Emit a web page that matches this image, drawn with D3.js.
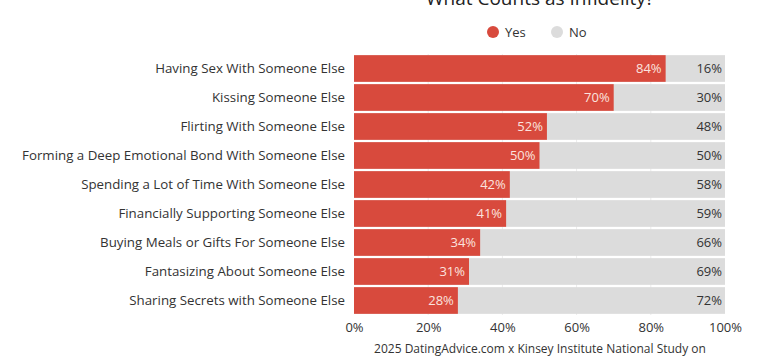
<!DOCTYPE html>
<html><head><meta charset="utf-8">
<script src="https://cdn.jsdelivr.net/npm/d3@7"></script>
<style>body{margin:0;background:#fff;}svg{display:block;font-family:"Open Sans",sans-serif;}</style>
</head><body>
<svg id="c" width="768" height="358"></svg>
<script>
const categories = ["Having Sex With Someone Else","Kissing Someone Else","Flirting With Someone Else","Forming a Deep Emotional Bond With Someone Else","Spending a Lot of Time With Someone Else","Financially Supporting Someone Else","Buying Meals or Gifts For Someone Else","Fantasizing About Someone Else","Sharing Secrets with Someone Else"];
const yesValues = [84,70,52,50,42,41,34,31,28];
const noValues = [16,30,48,50,58,59,66,69,72];
const tickValues = [0,20,40,60,80,100];
const seriesNames = ["Yes","No"];
const title = "What Counts as Infidelity?";
const source = "2025 DatingAdvice.com x Kinsey Institute National Study on";

const RED = "#d84a3d", GREY = "#dcdcdc";
const svg = d3.select("#c");
const x = d3.scaleLinear().domain([0,100]).range([354,725]);
const y = d3.scaleBand().domain(categories).range([54,315]).paddingInner(0.08).paddingOuter(0.04);

// gridlines
svg.append("g").selectAll("line").data(tickValues.slice(1,-1)).join("line")
  .attr("x1",d=>x(d)).attr("x2",d=>x(d)).attr("y1",y.range()[0]).attr("y2",y.range()[1])
  .attr("stroke","#ececec").attr("stroke-width",1);

const rows = svg.append("g").selectAll("g").data(categories).join("g");
rows.append("rect").attr("x",x(0)).attr("y",d=>y(d)).attr("height",y.bandwidth())
  .attr("width",(d,i)=>x(yesValues[i]+noValues[i])-x(0)).attr("fill",GREY);
rows.append("rect").attr("x",x(0)).attr("y",d=>y(d)).attr("height",y.bandwidth())
  .attr("width",(d,i)=>x(yesValues[i])-x(0)).attr("fill",RED);
rows.append("text").attr("x",(d,i)=>x(yesValues[i])-4).attr("y",d=>y(d)+y.bandwidth()/2)
  .attr("dy","0.35em").attr("text-anchor","end").attr("font-size",13).attr("fill","#fbe3df")
  .text((d,i)=>yesValues[i]+"%");
rows.append("text").attr("x",(d,i)=>x(yesValues[i]+noValues[i])-3).attr("y",d=>y(d)+y.bandwidth()/2)
  .attr("dy","0.35em").attr("text-anchor","end").attr("font-size",13).attr("fill","#333")
  .text((d,i)=>noValues[i]+"%");
rows.append("text").attr("x",345).attr("y",d=>y(d)+y.bandwidth()/2)
  .attr("dy","0.35em").attr("text-anchor","end").attr("font-size",13.3).attr("fill","#333")
  .text(d=>d);

// x axis
const ax = svg.append("g").attr("transform",`translate(0,${y.range()[1]})`)
  .call(d3.axisBottom(x).tickValues(tickValues).tickFormat(d=>d+"%").tickSize(0).tickPadding(8));
ax.select(".domain").remove();
ax.selectAll("text").attr("font-size",13).attr("fill","#333").attr("font-family","Open Sans, sans-serif");

// title
svg.append("text").attr("x",540).attr("y",5).attr("text-anchor","middle").attr("font-size",19)
  .attr("fill","#222").text(title);

// legend
const leg = svg.append("g").selectAll("g").data(seriesNames).join("g")
  .attr("transform",(d,i)=>`translate(${i?557:493},32)`);
leg.append("circle").attr("r",6).attr("fill",(d,i)=>i?GREY:RED);
leg.append("text").attr("x",12).attr("dy","0.35em").attr("font-size",13).attr("fill","#333").text(d=>d);

// source
svg.append("text").attr("x",540).attr("y",353).attr("text-anchor","middle").attr("font-size",12)
  .attr("fill","#333").text(source);
</script>
</body></html>
